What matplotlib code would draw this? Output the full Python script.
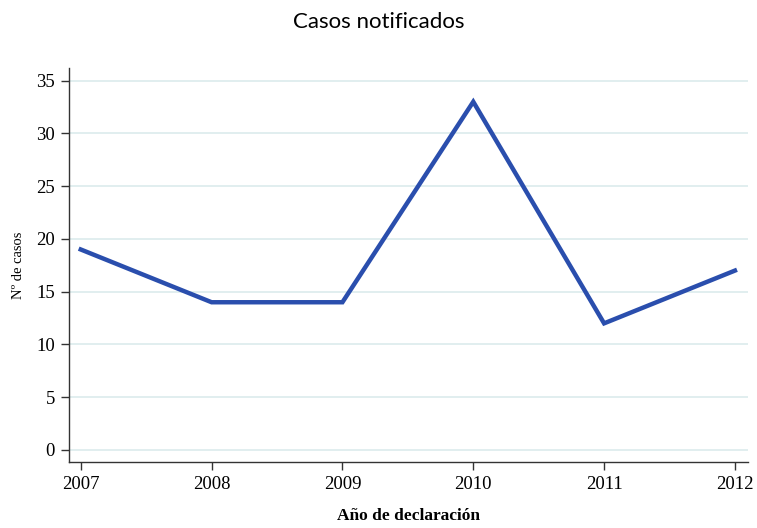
import numpy as np
import matplotlib.pyplot as plt

years = [2007, 2008, 2009, 2010, 2011, 2012]
cases = [19, 14, 14, 33, 12, 17]
yticks = [0, 5, 10, 15, 20, 25, 30, 35]

fig = plt.figure(figsize=(7.57, 5.28), dpi=100)
ax = fig.add_axes([69/757, 66/528, (748-69)/757, (462-68)/528])

for y in yticks:
    ax.axhline(y, color="#dcebec", lw=1.2, zorder=0)

ax.plot(years, cases, color="#2a4ead", lw=3.2, solid_joinstyle="miter", zorder=3)

ax.set_xlim(2006.91, 2012.1)
ax.set_ylim(-1.14, 36.2)
ax.set_xticks(years)
ax.set_yticks(yticks)

serif = "Liberation Serif"
ax.set_xticklabels([str(y) for y in years], fontsize=13.5, family=serif)
ax.set_yticklabels([str(y) for y in yticks], fontsize=13.5, family=serif)
ax.tick_params(axis="both", length=6, width=1, color="#333333", pad=4)

for s in ["top", "right"]:
    ax.spines[s].set_visible(False)
for s in ["left", "bottom"]:
    ax.spines[s].set_color("#333333")
    ax.spines[s].set_linewidth(1)

ax.set_xlabel("Año de declaración", fontsize=12.5, family=serif, fontweight="bold", labelpad=11)
ax.set_ylabel("Nº de casos", fontsize=10.5, family=serif, labelpad=8)
fig.suptitle("Casos notificados", fontsize=16, family="Lato", y=0.978)

fig.savefig("out.png", dpi=100)
